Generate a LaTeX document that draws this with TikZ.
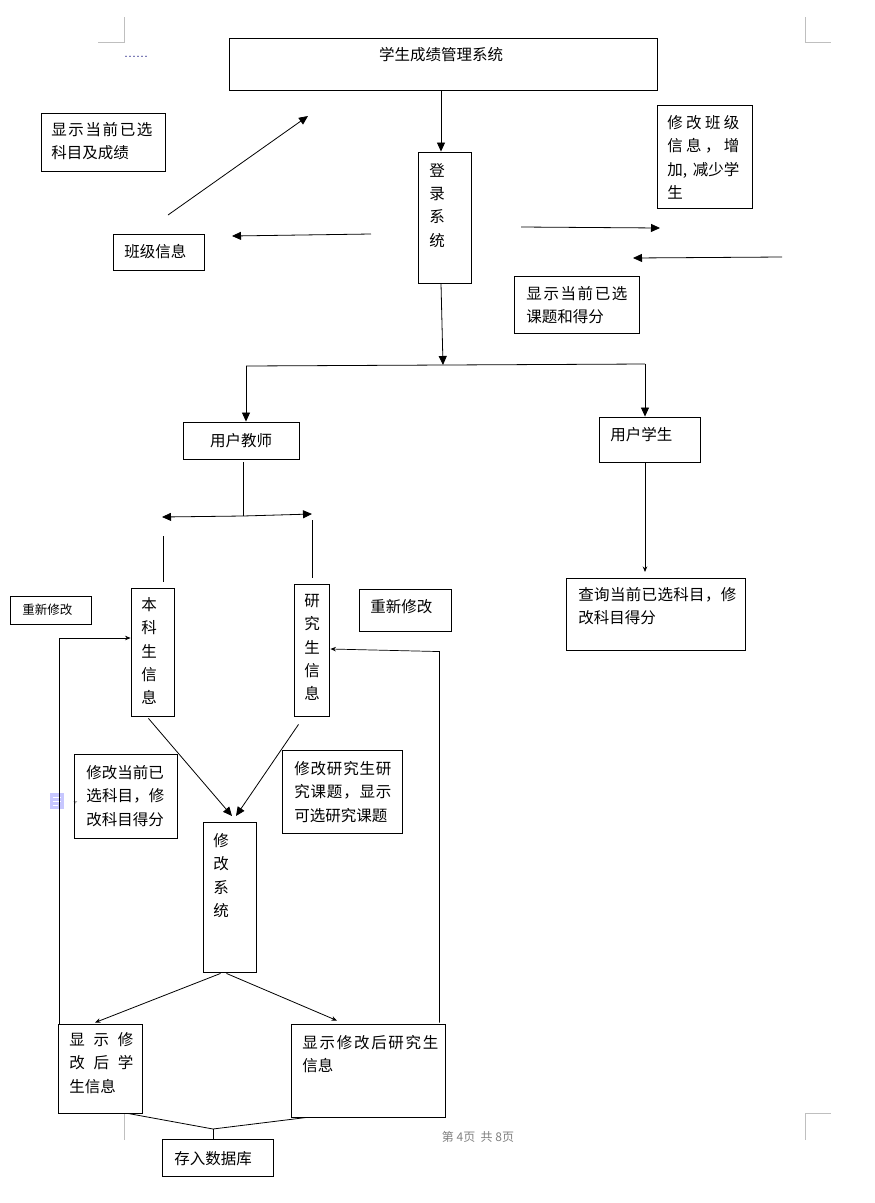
\documentclass[tikz,border=0pt]{standalone}
\usepackage{fontspec}
\newfontfamily\cjk{Noto Sans CJK SC}
\usetikzlibrary{arrows.meta,fit,calc}
\newcommand{\mainfs}{\cjk\fontsize{15.5}{23.3}\selectfont}
\begin{document}
\begin{tikzpicture}[x=1pt,y=-1pt,line width=0.8pt,
  box/.style={draw,inner sep=0pt,line width=0.9pt},
  lbl/.style={anchor=north west,inner sep=0pt,align=left,font=\mainfs},
  vlbl/.style={anchor=north,inner sep=0pt,align=center,font=\mainfs},
  arr/.style={-{Triangle[length=9pt,width=8pt]}},
  sarr/.style={-{Stealth[length=5.5pt,width=4.5pt]}},
  pagemark/.style={draw=black!25,line width=0.7pt}]
\useasboundingbox (0,0) rectangle (875,1203);
% page corner marks
\draw[pagemark] (98,42) -- (124,42) -- (124,17);
\draw[pagemark] (805,17) -- (805,42) -- (831,42);
\draw[pagemark] (100,1113) -- (124,1113) -- (124,1140);
\draw[pagemark] (831,1113) -- (805,1113) -- (805,1140);
\node[inner sep=0pt,font=\fontsize{16}{16}\selectfont,text=blue!45!black] (dots) at (136,57) {......};
\node[inner sep=0pt,font=\cjk\fontsize{12}{12}\selectfont,text=black!50] (footer) at (478,1137) {第 4页\ \ 共 8页};
\node[fill=blue!22,minimum width=14pt,minimum height=16pt,inner sep=0pt] (icon) at (57,801) {};
\draw[white,line width=1pt] ($(icon.north west)+(3,5)$) -- ++(8,0) ($(icon.north west)+(3,9)$) -- ++(8,0) ($(icon.north west)+(3,13)$) -- ++(5,0);
\fill[black!35] ($(icon.east)+(9,0)$) -- ++(4,0) -- ++(-2,2.5) -- cycle;

% boxes
\node[box,fit={(229,38) (657,90)}] (title) {};
\node[box,fit={(41,113) (165,171)}] (xsdq1) {};
\node[box,fit={(113,234) (204,270)}] (bjxx) {};
\node[box,fit={(418,152) (471,283)}] (dlxt) {};
\node[box,fit={(657,105) (752,208)}] (xgbj) {};
\node[box,fit={(514,276) (639,333)}] (xsdq2) {};
\node[box,fit={(183,422) (299,459)}] (yhjs) {};
\node[box,fit={(599,417) (700,462)}] (yhxs) {};
\node[box,fit={(566,578) (745,650)}] (cxdq) {};
\node[box,fit={(10,596) (91,624)}] (cxxg1) {};
\node[box,fit={(131,588) (174,716)}] (bks) {};
\node[box,fit={(294,584) (329,716)}] (yjs) {};
\node[box,fit={(359,589) (451,631)}] (cxxg2) {};
\node[box,fit={(74,754) (177,838)}] (xgdq) {};
\node[box,fit={(282,750) (402,833)}] (xgyjs) {};
\node[box,fit={(203,822) (256,972)}] (xgxt) {};
\node[box,fit={(58,1024) (142,1113)}] (xsxg1) {};
\node[box,fit={(291,1024) (445,1117)}] (xsxg2) {};
\node[box,fit={(162,1139) (273,1176)}] (crsjk) {};

% texts
\node[vlbl] (titleT) at (441,47) {学生成绩管理系统};
\node[lbl] (xsdq1T) at (51,122) {\makebox[101pt][s]{显\hfil 示\hfil 当\hfil 前\hfil 已\hfil 选}\\科目及成绩};
\node[lbl] (bjxxT) at (124,244) {班级信息};
\node[vlbl] (dlxtT) at (437,163) {登\\录\\系\\统};
\node[lbl] (xgbjT) at (667,115) {\makebox[72pt][s]{修\hfil 改\hfil 班\hfil 级}\\\makebox[72pt][s]{信\hfil 息\hfil ，\hfil 增}\\\makebox[72pt][s]{加,\hfil 减少学}\\生};
\node[lbl] (xsdq2T) at (526,286) {\makebox[101pt][s]{显\hfil 示\hfil 当\hfil 前\hfil 已\hfil 选}\\课题和得分};
\node[vlbl] (yhjsT) at (241,433) {用户教师};
\node[lbl] (yhxsT) at (610,427) {用户学生};
\node[lbl] (cxdqT) at (578,587) {\makebox[158pt][s]{查\hfil 询\hfil 当\hfil 前\hfil 已\hfil 选\hfil 科\hfil 目\hfil ，\hfil 修}\\改科目得分};
\node[lbl,font=\cjk\fontsize{12.5}{15}\selectfont] (cxxg1T) at (22,604) {重新修改};
\node[vlbl] (bksT) at (149,597) {本\\科\\生\\信\\息};
\node[vlbl] (yjsT) at (312,594) {研\\究\\生\\信\\息};
\node[lbl] (cxxg2T) at (370,599) {重新修改};
\node[lbl] (xgdqT) at (86,765) {修改当前已\\\makebox[78pt][s]{选\hfil 科\hfil 目\hfil ，\hfil 修}\\改科目得分};
\node[lbl] (xgyjsT) at (294,761) {\makebox[97pt][s]{修\hfil 改\hfil 研\hfil 究\hfil 生\hfil 研}\\\makebox[97pt][s]{究\hfil 课\hfil 题\hfil ，\hfil 显\hfil 示}\\可选研究课题};
\node[vlbl] (xgxtT) at (221,833) {修\\改\\系\\统};
\node[lbl] (xsxg1T) at (69,1032) {\makebox[64pt][s]{显\hfil 示\hfil 修}\\\makebox[64pt][s]{改\hfil 后\hfil 学}\\生信息};
\node[lbl] (xsxg2T) at (302,1035) {\makebox[136pt][s]{显\hfil 示\hfil 修\hfil 改\hfil 后\hfil 研\hfil 究\hfil 生}\\信息};
\node[lbl] (crsjkT) at (174,1151) {存入数据库};

% connectors
\draw[arr] ($(title.south)+(-2,1)$) -- ($(dlxt.north)+(-3.5,0)$);
\coordinate (j1) at (443,365);
\draw[arr] ($(dlxt.south)+(-3.5,0)$) -- (j1);
\coordinate (jl) at (246,366);
\coordinate (jr) at (645,364);
\draw (jl) -- (jr);
\draw[arr] (jl) -- (jl |- yhjs.north);
\draw[arr] (jr) -- (jr |- yhxs.north);

\coordinate (c1s) at (168,215); \coordinate (c1e) at (308,116);
\draw[arr] (c1s) -- (c1e);
\coordinate (c2s) at (371,234); \coordinate (c2e) at (232,236);
\draw[arr] (c2s) -- (c2e);
\coordinate (c3s) at (521,227); \coordinate (c3e) at (660,228);
\draw[arr] (c3s) -- (c3e);
\coordinate (c4s) at (782,257); \coordinate (c4e) at (633,258);
\draw[arr] (c4s) -- (c4e);

\coordinate (t1) at (243,516);
\coordinate (tl) at (162,517);
\coordinate (tr) at (312,514);
\draw ($(yhjs.south)+(2,3)$) -- (t1);
\draw[arr] (t1) -- (tl);
\draw[arr] (t1) -- (tr);
\coordinate (bl1) at (163,536);
\draw (bl1) -- ($(bl1 |- bks.north)+(0,-6)$);
\coordinate (br1) at (312,520);
\draw (br1) -- ($(br1 |- yjs.north)+(0,-6)$);

\coordinate (s1) at (645,572);
\draw[sarr] ($(yhxs.south)+(-4.5,1)$) -- (s1);

\coordinate (m1) at (232,816);
\coordinate (m2) at (236,816);
\draw[arr] ($(bks.south)+(-4,2)$) -- (m1);
\draw[arr] ($(yjs.south)+(-13,8)$) -- (m2);

\draw[sarr] ($(xgxt.south)+(-9,1)$) -- ($(xsxg1.north)+(-5,-1)$);
\draw[sarr] ($(xgxt.south)+(-3,1)$) -- ($(xsxg2.north)+(-31,-3)$);

\draw[sarr,line width=0.7pt] ($(xsxg1.north west)+(2,0)$) |- ($(bks.west)+(0,-14)$);
\draw[sarr,line width=0.7pt] ($(xsxg2.north east)+(-6,-1)$) -- ++(0,-371) -- ($(yjs.east)+(1,-1)$);

\coordinate (db) at (213,1129);
\draw ($(xsxg1.south)+(28,0)$) -- (db) -- ($(xsxg2.south west)+(16,0)$);
\draw (db) -- (db |- crsjk.north);
\end{tikzpicture}
\end{document}
